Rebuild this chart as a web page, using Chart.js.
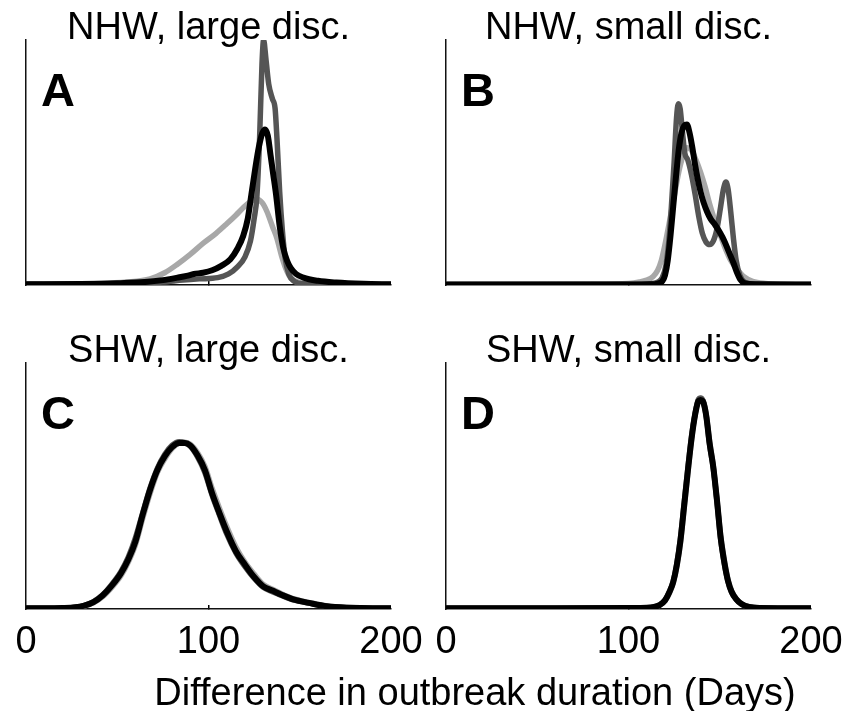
<!DOCTYPE html>
<html lang="en">
<head>
    <meta charset="UTF-8">
    <meta name="viewport" content="initial-scale=1.0">
    <title>Outbreak duration</title>
    <script src="https://cdn.jsdelivr.net/npm/chart.js"></script>
    <style>
        body { margin: 0; padding: 0; background: #fff; }
        #wrap { position: relative; width: 845px; height: 711px; overflow: hidden; }
        canvas { position: absolute; }
        #xlabel {
            position: absolute;
            left: 475px;
            top: 673px;
            transform: translateX(-50%);
            white-space: nowrap;
            font: 38px "Liberation Sans", Arial, sans-serif;
            line-height: 38px;
            color: #000;
        }
    </style>
</head>
<body>

<div id="wrap">
    <canvas id="panelA" width="450" height="300" style="left:0;top:0"></canvas>
    <canvas id="panelB" width="450" height="300" style="left:420px;top:0"></canvas>
    <canvas id="panelC" width="450" height="391" style="left:0;top:320px"></canvas>
    <canvas id="panelD" width="450" height="391" style="left:420px;top:320px"></canvas>
    <div id="xlabel">Difference in outbreak duration (Days)</div>
</div>

<script>
    // tick labels on the shared x axis (days)
    const xTicks = [0, 100, 200];

    // A: NHW, large disc.
    const aLightX = [0, 20, 40, 55, 68, 76, 83, 90, 97, 104, 110, 115, 119, 123, 126.5, 129.5, 132, 135, 137.5, 140, 142.5, 145, 150, 160, 200];
    const aLightY = [0.003, 0.004, 0.006, 0.012, 0.025, 0.05, 0.085, 0.125, 0.17, 0.21, 0.25, 0.285, 0.315, 0.34, 0.35, 0.335, 0.3, 0.24, 0.19, 0.12, 0.065, 0.03, 0.01, 0.004, 0.002];
    const aDarkX = [0, 40, 60, 75, 86, 95, 105, 111, 116, 120, 123, 125, 126.5, 128, 129.3, 130.2, 131.5, 133, 135, 136.5, 137.5, 139, 140.5, 142, 144, 147, 152, 200];
    const aDarkY = [0.003, 0.004, 0.006, 0.012, 0.02, 0.025, 0.03, 0.045, 0.075, 0.115, 0.18, 0.27, 0.36, 0.6, 0.9, 1.0, 0.92, 0.82, 0.76, 0.72, 0.6, 0.38, 0.22, 0.11, 0.045, 0.015, 0.005, 0.002];
    const aBlackX = [0, 30, 50, 65, 75, 83, 88, 92, 97, 102, 107, 112, 116, 119, 121.5, 123.5, 125.5, 127.5, 129.5, 131, 132.5, 134, 135.5, 137, 139, 141, 143, 145, 148, 152, 160, 170, 185, 200];
    const aBlackY = [0.003, 0.004, 0.007, 0.012, 0.02, 0.03, 0.037, 0.045, 0.05, 0.06, 0.078, 0.105, 0.15, 0.2, 0.27, 0.37, 0.47, 0.56, 0.62, 0.635, 0.61, 0.53, 0.45, 0.37, 0.24, 0.15, 0.1, 0.07, 0.045, 0.03, 0.017, 0.01, 0.005, 0.003];

    // B: NHW, small disc.
    const bLightX = [0, 80, 100, 106, 110, 113.5, 116, 118, 120, 122.5, 125, 127.5, 130, 132, 134.5, 137, 139.5, 142, 144.5, 147, 150, 153, 156, 159.5, 163, 168, 175, 185, 200];
    const bLightY = [0.002, 0.003, 0.006, 0.012, 0.02, 0.035, 0.06, 0.1, 0.165, 0.26, 0.36, 0.46, 0.53, 0.56, 0.55, 0.51, 0.46, 0.4, 0.33, 0.27, 0.21, 0.15, 0.1, 0.065, 0.035, 0.015, 0.006, 0.003, 0.002];
    const bDarkX = [0, 100, 112, 116, 118.5, 120.5, 122, 123.5, 125, 126.3, 127.3, 128.3, 129.5, 130.8, 132.5, 134.5, 136.5, 138.5, 140.5, 142.5, 144.5, 146.5, 148.5, 150.5, 152, 153.4, 154.6, 156, 157.5, 159, 161, 163.5, 168, 200];
    const bDarkY = [0.002, 0.003, 0.005, 0.012, 0.03, 0.08, 0.17, 0.32, 0.5, 0.68, 0.74, 0.72, 0.63, 0.54, 0.51, 0.45, 0.37, 0.28, 0.21, 0.175, 0.165, 0.18, 0.23, 0.32, 0.39, 0.42, 0.39, 0.3, 0.19, 0.1, 0.04, 0.012, 0.004, 0.002];
    const bBlackX = [0, 100, 112, 116, 118.5, 120, 121.5, 123, 124.5, 126, 127.5, 129, 130.5, 132, 133.5, 135, 136.5, 138, 139.5, 141, 143, 145, 147.5, 150, 152.5, 155, 157.5, 159.5, 161.5, 164, 170, 200];
    const bBlackY = [0.002, 0.002, 0.003, 0.006, 0.015, 0.04, 0.1, 0.2, 0.32, 0.44, 0.55, 0.62, 0.65, 0.655, 0.62, 0.56, 0.49, 0.43, 0.38, 0.34, 0.3, 0.27, 0.245, 0.215, 0.18, 0.135, 0.09, 0.05, 0.02, 0.006, 0.003, 0.002];

    // C: SHW, large disc.
    const cX = [0, 10, 20, 27, 32, 37, 42, 47, 52, 56, 60, 64, 68, 72, 76, 80, 84, 87, 90, 94, 98, 102, 106, 110, 115, 120, 125, 130, 135, 140, 147, 155, 165, 177, 190, 200];
    const cLightY = [0.003, 0.003, 0.004, 0.006, 0.012, 0.025, 0.05, 0.088, 0.135, 0.19, 0.262, 0.37, 0.47, 0.555, 0.61, 0.652, 0.675, 0.678, 0.67, 0.635, 0.58, 0.49, 0.41, 0.335, 0.252, 0.19, 0.142, 0.1, 0.08, 0.062, 0.041, 0.027, 0.012, 0.006, 0.003, 0.003];
    const cDarkY = [0.003, 0.003, 0.004, 0.007, 0.015, 0.03, 0.058, 0.1, 0.152, 0.21, 0.29, 0.392, 0.492, 0.572, 0.628, 0.665, 0.68, 0.676, 0.662, 0.618, 0.555, 0.462, 0.382, 0.305, 0.228, 0.172, 0.125, 0.088, 0.07, 0.055, 0.036, 0.024, 0.01, 0.005, 0.003, 0.003];
    const cBlackY = [0.003, 0.003, 0.004, 0.007, 0.014, 0.028, 0.055, 0.095, 0.145, 0.2, 0.275, 0.385, 0.485, 0.565, 0.62, 0.658, 0.675, 0.675, 0.665, 0.625, 0.565, 0.47, 0.39, 0.315, 0.235, 0.18, 0.13, 0.092, 0.075, 0.058, 0.038, 0.025, 0.011, 0.005, 0.003, 0.003];

    // D: SHW, small disc.
    const dX = [0, 60, 100, 110, 114, 117, 120, 122.5, 124.5, 126.5, 128.5, 130.5, 132.5, 134.5, 136.5, 138.3, 139.5, 140.7, 142.5, 144.5, 146.5, 148.5, 150.5, 152.5, 154.5, 156.5, 159, 162, 166, 172, 200];
    const dLightY = [0.003, 0.003, 0.004, 0.005, 0.008, 0.015, 0.033, 0.066, 0.105, 0.172, 0.27, 0.41, 0.55, 0.685, 0.79, 0.85, 0.856, 0.85, 0.795, 0.68, 0.58, 0.445, 0.3, 0.2, 0.12, 0.074, 0.042, 0.021, 0.009, 0.004, 0.003];
    const dDarkY = [0.003, 0.003, 0.004, 0.005, 0.008, 0.016, 0.036, 0.072, 0.112, 0.185, 0.29, 0.43, 0.57, 0.7, 0.795, 0.852, 0.858, 0.848, 0.788, 0.665, 0.57, 0.435, 0.285, 0.186, 0.112, 0.068, 0.039, 0.019, 0.008, 0.004, 0.003];
    const dBlackY = [0.003, 0.003, 0.004, 0.005, 0.008, 0.016, 0.035, 0.07, 0.11, 0.18, 0.28, 0.42, 0.56, 0.69, 0.79, 0.845, 0.85, 0.845, 0.79, 0.67, 0.575, 0.44, 0.29, 0.19, 0.115, 0.07, 0.04, 0.02, 0.008, 0.004, 0.003];

    const FONT = '"Liberation Sans", Arial, sans-serif';
    Chart.defaults.font.family = FONT;

    function pts(xs, ys) {
        return xs.map((x, i) => ({ x: x, y: ys[i] }));
    }

    // title above the plot and the bold panel letter inside it
    const panelText = {
        id: 'panelText',
        afterDraw(chart, args, opts) {
            const { ctx, chartArea } = chart;
            ctx.save();
            ctx.fillStyle = '#000';
            ctx.textBaseline = 'alphabetic';
            ctx.font = '38px ' + FONT;
            ctx.textAlign = 'center';
            ctx.fillText(opts.title, (chartArea.left + chartArea.right) / 2, chartArea.top - 1);
            ctx.font = 'bold 47px ' + FONT;
            ctx.textAlign = 'left';
            ctx.fillText(opts.letter, chartArea.left + 15, chartArea.top + 66);
            ctx.restore();
        }
    };

    function makePanel(id, title, letter, series, showLabels, pad, axisHeight) {
        const colors = ['#a8a8a8', '#555555', '#000000'];
        const widths = [5.5, 5.5, 6];
        new Chart(document.getElementById(id), {
            type: 'line',
            data: {
                datasets: series.map((s, i) => ({
                    data: s,
                    borderColor: colors[i],
                    borderWidth: widths[i],
                    pointRadius: 0,
                    fill: false,
                    cubicInterpolationMode: 'monotone',
                    borderJoinStyle: 'round',
                    borderCapStyle: 'round',
                    order: 3 - i
                }))
            },
            options: {
                responsive: false,
                animation: false,
                events: [],
                layout: { padding: pad },
                plugins: {
                    legend: { display: false },
                    tooltip: { enabled: false },
                    panelText: { title: title, letter: letter }
                },
                scales: {
                    x: {
                        type: 'linear',
                        min: 0,
                        max: 200,
                        afterBuildTicks: s => { s.ticks = xTicks.map(v => ({ value: v })); },
                        afterFit: s => { s.height = axisHeight; },
                        ticks: {
                            display: showLabels,
                            color: '#000',
                            padding: 15,
                            maxRotation: 0,
                            font: { size: 38 }
                        },
                        grid: {
                            drawOnChartArea: false,
                            drawTicks: true,
                            tickLength: -4,
                            lineWidth: 1.5,
                            color: c => (c.tick && c.tick.value === 100) ? '#000' : 'rgba(0,0,0,0)'
                        },
                        border: { display: true, color: '#111', width: 1.5 }
                    },
                    y: {
                        min: 0,
                        max: 1,
                        afterFit: s => { s.width = 0; },
                        ticks: { display: false },
                        grid: { display: false },
                        border: { display: true, color: '#111', width: 1.5 }
                    }
                }
            },
            plugins: [panelText]
        });
    }

    // chart areas: left panels x 26..391, right panels x 446..811
    makePanel('panelA', 'NHW, large disc.', 'A',
        [pts(aLightX, aLightY), pts(aDarkX, aDarkY), pts(aBlackX, aBlackY)],
        false, { left: 26, right: 59, top: 40, bottom: 0 }, 15);
    makePanel('panelB', 'NHW, small disc.', 'B',
        [pts(bLightX, bLightY), pts(bDarkX, bDarkY), pts(bBlackX, bBlackY)],
        false, { left: 26, right: 59, top: 40, bottom: 0 }, 15);
    makePanel('panelC', 'SHW, large disc.', 'C',
        [pts(cX, cLightY), pts(cX, cDarkY), pts(cX, cBlackY)],
        true, { left: 26, right: 59, top: 43, bottom: 0 }, 102);
    makePanel('panelD', 'SHW, small disc.', 'D',
        [pts(dX, dLightY), pts(dX, dDarkY), pts(dX, dBlackY)],
        true, { left: 26, right: 59, top: 43, bottom: 0 }, 102);
</script>

</body>
</html>
